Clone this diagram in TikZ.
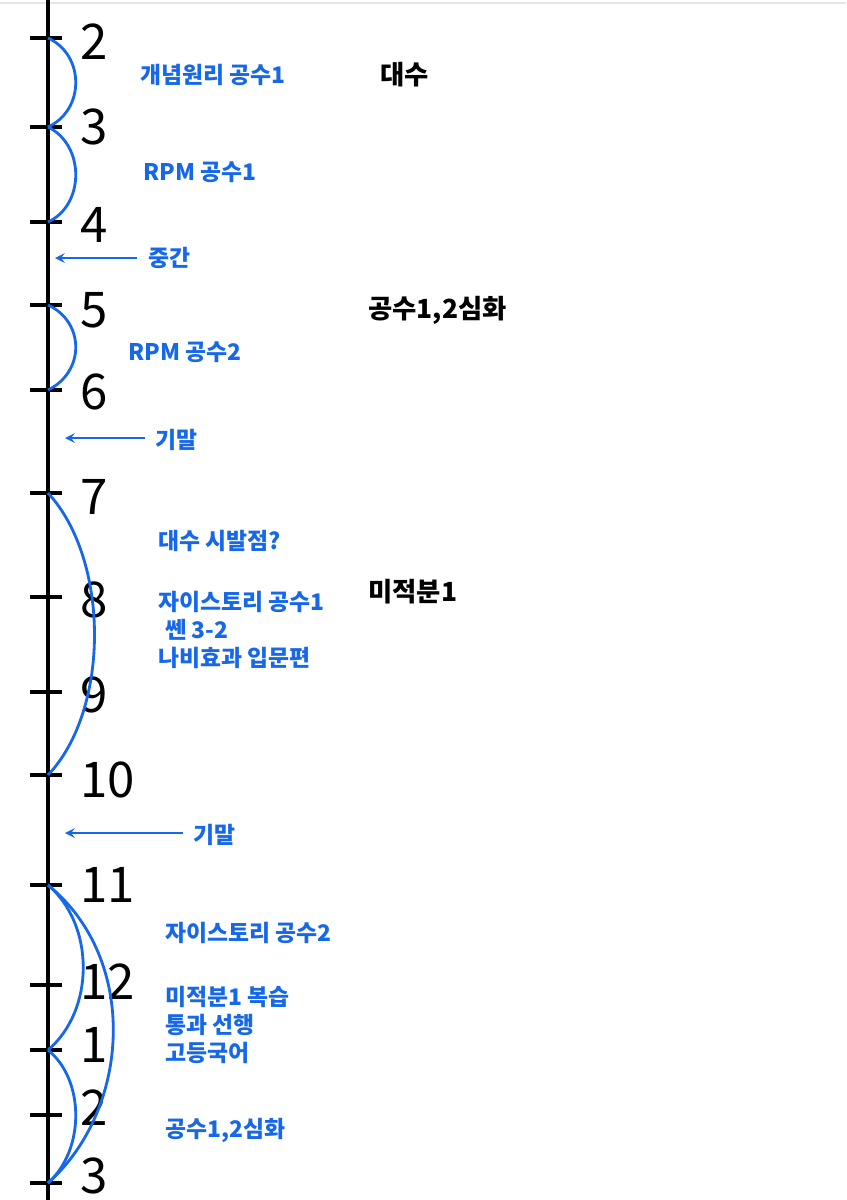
\documentclass[tikz,border=0pt]{standalone}
\usepackage{fontspec}
\setmainfont{Noto Sans CJK KR}
\definecolor{pen}{RGB}{22,104,232}
\begin{document}
\begin{tikzpicture}[x=0.02cm,y=-0.02cm,
  num/.style={anchor=west,font=\fontsize{28}{28}\selectfont,inner sep=0},
  blab/.style={anchor=west,text=pen,font=\fontsize{13}{16}\selectfont\bfseries,inner sep=0},
  klab/.style={anchor=west,font=\fontsize{15}{18}\selectfont\bfseries,inner sep=0},
  arc/.style={pen,line width=1.6pt},
  tick/.style={line width=1.8pt},
  arr/.style={pen,line width=1.4pt,->,>=stealth}]
\useasboundingbox (0,0) rectangle (846,1200);
\draw[black!10,line width=1pt] (0,3) -- (846,3);
\draw[line width=1.8pt] (48,0) -- (48,1200);
\foreach \n/\y/\t/\ny in {a/38/2/42,b/127/3/127,c/222/4/225,d/305/5/310,e/390/6/392,f/493/7/497,g/597/8/600,h/692/9/695,i/775/10/780,j/885/11/885,k/985/12/982,l/1050/1/1045,m/1115/2/1108,n/1183/3/1176}{
  \coordinate (t\n) at (48,\y);
  \draw[tick] (30,\y) -- (62,\y);
  \node[num] (n\n) at (80,\ny) {\t};
}
\draw[arc] (ta) .. controls (85,55) and (85,110) .. (tb);
\draw[arc] (tb) .. controls (85,145) and (85,205) .. (tc);
\draw[arc] (td) .. controls (85,322) and (85,372) .. (te);
\draw[arc] (tf) .. controls (110,560) and (110,710) .. (ti);
\draw[arc] (tj) .. controls (95,925) and (95,1010) .. (tl);
\draw[arc] (tl) .. controls (85,1080) and (85,1150) .. (tn);
\draw[arc] (tj) .. controls (140,960) and (130,1110) .. (tn);
\node[blab] (l1) at (140,75) {개념원리 공수1};
\node[blab] (l2) at (143,172) {RPM 공수1};
\node[blab] (l3) at (128,352) {RPM 공수2};
\node[blab] (l4) at (158,541) {대수 시발점?};
\node[blab,align=left] (l5) at (158,630) {자이스토리 공수1\\\hspace{0.3em}쎈 3-2\\나비효과 입문편};
\node[blab] (l6) at (165,933) {자이스토리 공수2};
\node[blab,align=left] (l7) at (165,1025) {미적분1 복습\\통과 선행\\고등국어};
\node[blab] (l8) at (165,1130) {공수1,2심화};
\node[klab] (k1) at (380,75) {대수};
\node[klab] (k2) at (368,310) {공수1,2심화};
\node[klab] (k3) at (368,592) {미적분1};
\node[blab] (m1) at (148,258) {중간};
\coordinate (a1) at (55,258);
\draw[arr] (137,258) -- (a1);
\node[blab] (m2) at (155,440) {기말};
\coordinate (a2) at (65,438);
\draw[arr] (145,438) -- (a2);
\node[blab] (m3) at (193,835) {기말};
\coordinate (a3) at (65,833);
\draw[arr] (183,833) -- (a3);
\end{tikzpicture}
\end{document}
